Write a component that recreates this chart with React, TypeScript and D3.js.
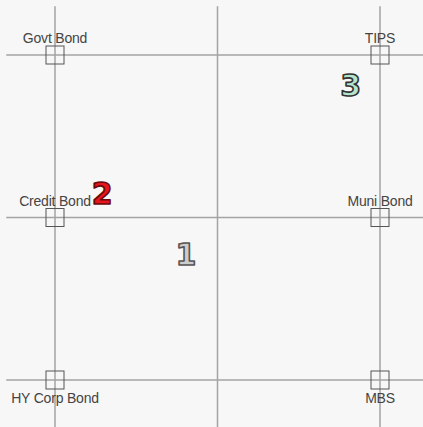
import React from "react";
import * as d3 from "d3";

const nodeNames = ["Govt Bond", "TIPS", "Credit Bond", "Muni Bond", "HY Corp Bond", "MBS"];
const nodeCols = [0, 2, 0, 2, 0, 2];
const nodeRows = [0, 0, 1, 1, 2, 2];
const gridTicks = [0, 1, 2];

const markerLabels = ["1", "2", "3"];
const markerX = [0.805, 0.29, 1.82];
const markerY = [1.225, 0.855, 0.19];
const markerFill = ["#cccccc", "#e8141c", "#b4e4cc"];
const markerStroke = ["#555555", "#6a0a0a", "#333333"];

const W = 423;
const H = 427;

export default function App() {
  const x = d3.scaleLinear().domain([0, 2]).range([55, 380]);
  const y = d3.scaleLinear().domain([0, 2]).range([55, 380]);
  const ext = [-0.3, 2.35];
  const sq = 18;
  return (
    <svg
      width={W}
      height={H}
      style={{ position: "absolute", left: 0, top: 0, display: "block" }}
      fontFamily="'Liberation Sans', Arial, sans-serif"
    >
      <rect x={0} y={0} width={W} height={H} fill="#f7f7f7" />
      {gridTicks.map((t) => (
        <g key={"g" + t}>
          <line x1={x(t)} x2={x(t)} y1={y(ext[0])} y2={y(ext[1])} stroke="#a3a3a3" strokeWidth={1.5} />
          <line y1={y(t)} y2={y(t)} x1={x(ext[0])} x2={x(ext[1])} stroke="#a3a3a3" strokeWidth={1.5} />
        </g>
      ))}
      {nodeNames.map((n, i) => {
        const cx = x(nodeCols[i]);
        const cy = y(nodeRows[i]);
        const below = nodeRows[i] === 2;
        return (
          <g key={n}>
            <rect x={cx - sq / 2} y={cy - sq / 2} width={sq} height={sq} fill="none" stroke="#555" strokeWidth={1} />
            <text
              x={cx}
              y={below ? cy + sq / 2 + 14 : cy - sq / 2 - 3}
              textAnchor="middle"
              fontSize={14}
              fill="#444"
              letterSpacing={-0.2}
            >
              {n}
            </text>
          </g>
        );
      })}
      {markerLabels.map((m, i) => (
        <text
          key={m}
          x={x(markerX[i])}
          y={y(markerY[i])}
          textAnchor="middle"
          dominantBaseline="central"
          fontFamily="'DejaVu Sans', sans-serif"
          fontWeight="bold"
          fontSize={30}
          fill={markerFill[i]}
          stroke={markerStroke[i]}
          strokeWidth={1.6}
          strokeLinejoin="round"
        >
          {m}
        </text>
      ))}
    </svg>
  );
}
